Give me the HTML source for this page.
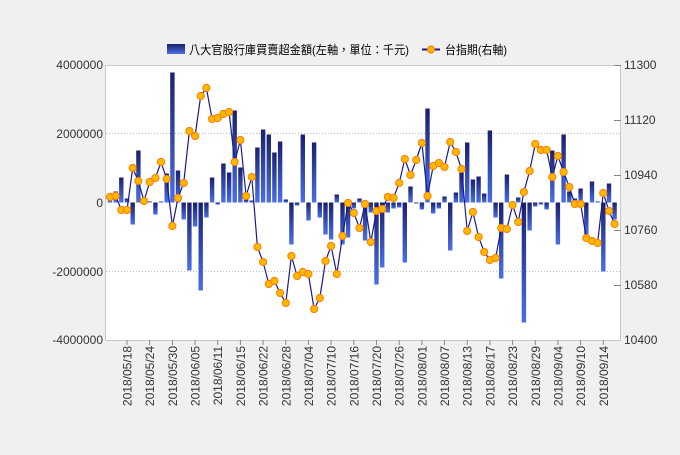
<!DOCTYPE html>
<html><head><meta charset="utf-8"><style>
html,body{margin:0;padding:0;background:#f0f0f0;}
svg text{font-family:"Liberation Sans","Noto Sans CJK TC",sans-serif;}
</style></head><body>
<svg id="s" width="680" height="450" xmlns="http://www.w3.org/2000/svg">
<defs><linearGradient id="g" x1="0" y1="0" x2="0" y2="1"><stop offset="0" stop-color="#1a1f6e"/><stop offset="1" stop-color="#4a70e4"/></linearGradient>
<linearGradient id="gl" x1="0" y1="0" x2="0" y2="1"><stop offset="0" stop-color="#1a1f6e"/><stop offset="1" stop-color="#4a70e4"/></linearGradient></defs>
<rect x="0" y="0" width="680" height="450" fill="#f0f0f0"/>
<rect x="105.5" y="65.5" width="515" height="275" fill="#fff" stroke="#c8c8c8"/>
<line x1="106" y1="133.5" x2="620" y2="133.5" stroke="#bbb" stroke-dasharray="1,2"/>
<line x1="106" y1="271.5" x2="620" y2="271.5" stroke="#bbb" stroke-dasharray="1,2"/>
<g font-size="12" fill="#333" text-anchor="end">
<text x="103" y="69">4000000</text><text x="103" y="138">2000000</text><text x="103" y="207">0</text><text x="103" y="276">-2000000</text><text x="103" y="344">-4000000</text></g>
<g font-size="12" fill="#333">
<text x="624" y="69">11300</text><text x="624" y="124">11120</text><text x="624" y="179">10940</text><text x="624" y="234">10760</text><text x="624" y="289">10580</text><text x="624" y="344">10400</text></g>
<g stroke="#888"><line x1="614" y1="65.5" x2="621" y2="65.5"/><line x1="614" y1="120.5" x2="621" y2="120.5"/><line x1="614" y1="175.5" x2="621" y2="175.5"/><line x1="614" y1="230.5" x2="621" y2="230.5"/><line x1="614" y1="285.5" x2="621" y2="285.5"/></g>
<g id="bars"></g><g id="line"></g><g id="xl"></g>
<rect x="167" y="44" width="18" height="10" fill="url(#gl)"/>
<text x="189" y="54" font-size="12" fill="#000" textLength="220" lengthAdjust="spacingAndGlyphs">八大官股行庫買賣超金額(左軸，單位：千元)</text>
<line x1="422" y1="49.5" x2="440" y2="49.5" stroke="#1a1a8c" stroke-width="2"/>
<circle cx="431" cy="49.5" r="3.5" fill="#ffb800" stroke="#ff7a00"/>
<text x="445" y="54" font-size="12" fill="#000" textLength="62" lengthAdjust="spacingAndGlyphs">台指期(右軸)</text>
</svg>
<script>
var b=[8,11,25,4,-22,52,1,1,-12,1,29,130,32,-17,-68,-24,-88,-15,25,-2,39,30,92,35,3,2,55,73,68,50,61,3,-42,-3,68,-18,60,-15,-32,-37,8,-42,-35,-6,4,-38,-10,-82,-65,-10,-6,-5,-60,16,-1,-7,94,-11,-6,6,-48,10,30,60,23,26,9,72,-15,-76,28,-3,5,-120,-28,-4,-2,-7,52,-42,68,11,4,14,-32,21,1,-69,19,-17];
var l=[197,196,210,210,168,181,201,182,178,162,179,226,198,183,131,136,96,88,119,118,114,112,162,140,196,177,247,262,284,281,293,303,256,276,272,274,309,298,261,246,274,236,203,213,228,204,242,211,209,197,198,183,159,175,160,143,196,166,163,167,142,152,169,231,212,237,252,260,258,228,229,205,222,192,171,144,150,150,177,156,172,187,204,204,238,241,243,193,211,224];
var st=5.67,x0=110,z=202.5,h="",p="",c="",xl="";
for(var i=0;i<90;i++){var x=x0+i*st,v=b[i];var y=v>0?z-v:z,hh=Math.max(Math.abs(v),1);
h+='<rect x="'+(x-2.2).toFixed(1)+'" y="'+y.toFixed(1)+'" width="4.4" height="'+hh+'" fill="url(#g)"/>';
p+=(i?'L':'M')+x.toFixed(1)+','+l[i];c+='<circle cx="'+x.toFixed(1)+'" cy="'+l[i]+'" r="3.6" fill="#ffb800" stroke="#ff7a00" stroke-width="1"/>';}
var d=["05/18","05/24","05/30","06/05","06/11","06/15","06/22","06/28","07/04","07/10","07/16","07/20","07/26","08/01","08/07","08/13","08/17","08/23","08/29","09/04","09/10","09/14"];
for(var k=0;k<22;k++){var x=x0+(3+4*k)*st;xl+='<line x1="'+x.toFixed(1)+'" y1="340" x2="'+x.toFixed(1)+'" y2="345" stroke="#888"/><text transform="translate('+(x+4.5).toFixed(1)+',346) rotate(-90)" text-anchor="end" font-size="12" fill="#333">2018/'+d[k]+'</text>';}
document.getElementById("bars").innerHTML=h;
document.getElementById("line").innerHTML='<path d="'+p+'" fill="none" stroke="#1a1a8c" stroke-width="1.2"/>'+c;
document.getElementById("xl").innerHTML=xl;
</script>
</body></html>
